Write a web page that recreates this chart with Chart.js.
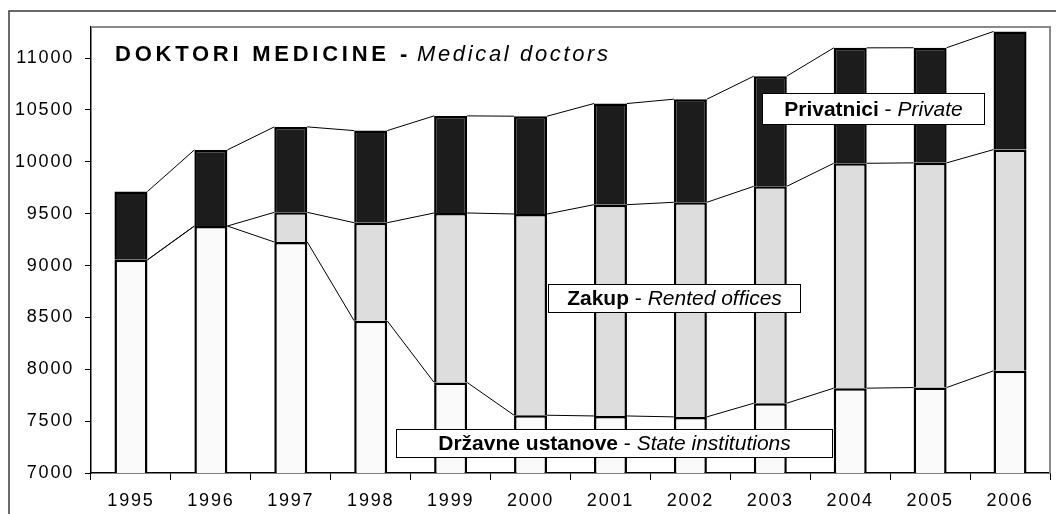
<!DOCTYPE html>
<html>
<head>
<meta charset="utf-8">
<script src="https://cdn.jsdelivr.net/npm/chart.js@4.4.1/dist/chart.umd.min.js"></script>
<style>
  html, body { margin: 0; padding: 0; background: #fff; }
  #wrap { position: relative; width: 1056px; height: 514px; }
</style>
</head>
<body>
<div id="wrap"><canvas id="chart"></canvas></div>
<script>
const years = ["1995", "1996", "1997", "1998", "1999", "2000", "2001", "2002", "2003", "2004", "2005", "2006"];
const stateInst = [9055, 9381, 9227, 8467, 7873, 7557, 7550, 7541, 7673, 7818, 7824, 7985];
const rentedOffices = [0, 0, 286, 946, 1634, 1940, 2037, 2069, 2091, 2168, 2166, 2133];
const privateDocs = [659, 734, 824, 888, 936, 943, 975, 994, 1062, 1113, 1110, 1139];
const yTicks = [7000, 7500, 8000, 8500, 9000, 9500, 10000, 10500, 11000];

const FONT = "'Liberation Sans', Arial, Helvetica, sans-serif";

// Excel-style series lines between the stacked bars
const seriesLines = {
  id: "seriesLines",
  afterDatasetsDraw(chart) {
    const ctx = chart.ctx;
    ctx.save();
    ctx.strokeStyle = "#000";
    ctx.lineWidth = 1;
    chart.data.datasets.forEach((ds, k) => {
      const bars = chart.getDatasetMeta(k).data;
      for (let i = 0; i < bars.length - 1; i++) {
        const a = bars[i], b = bars[i + 1];
        ctx.beginPath();
        ctx.moveTo(a.x + a.width / 2, a.y);
        ctx.lineTo(b.x - b.width / 2, b.y);
        ctx.stroke();
      }
    });
    ctx.restore();
  }
};

// spaced-out text stretched to a given width
function fitText(ctx, text, font, x, y, width) {
  ctx.font = font;
  ctx.letterSpacing = "0px";
  const w0 = ctx.measureText(text).width;
  ctx.letterSpacing = ((width - w0) / (text.length - 1)) + "px";
  ctx.fillText(text, x, y);
  ctx.letterSpacing = "0px";
}

function drawLabelBox(ctx, box, parts) {
  ctx.save();
  ctx.fillStyle = "#fff";
  ctx.fillRect(box.x, box.y, box.w, box.h);
  ctx.strokeStyle = "#000";
  ctx.lineWidth = 1;
  ctx.strokeRect(box.x + 0.5, box.y + 0.5, box.w - 1, box.h - 1);
  ctx.letterSpacing = "0px";
  let total = 0;
  parts.forEach(p => { ctx.font = p.font; total += ctx.measureText(p.text).width; });
  ctx.fillStyle = "#000";
  ctx.textAlign = "left";
  ctx.textBaseline = "alphabetic";
  let x = box.x + (box.w - total) / 2;
  const y = box.y + box.h / 2 + 6.5;
  parts.forEach(p => {
    ctx.font = p.font;
    ctx.fillText(p.text, x, y);
    x += ctx.measureText(p.text).width;
  });
  ctx.restore();
}

const decorations = {
  id: "decorations",
  beforeDraw(chart) {
    const ctx = chart.ctx;
    ctx.save();
    ctx.strokeStyle = "#3a3a3a";
    ctx.lineWidth = 1.5;
    ctx.beginPath();
    ctx.moveTo(9, 514);
    ctx.lineTo(9, 11);
    ctx.lineTo(1056, 11);
    ctx.stroke();
    ctx.restore();
    // wide tick text like the original
    ctx.letterSpacing = "1.8px";
  },
  afterDraw(chart) {
    const ctx = chart.ctx;
    const a = chart.chartArea;
    ctx.save();
    ctx.letterSpacing = "0px";
    ctx.strokeStyle = "#8a8a8a";
    ctx.lineWidth = 2;
    ctx.beginPath();
    ctx.moveTo(a.left, a.top);
    ctx.lineTo(a.right, a.top);
    ctx.lineTo(a.right, a.bottom);
    ctx.stroke();

    ctx.fillStyle = "#000";
    ctx.textBaseline = "alphabetic";
    fitText(ctx, "DOKTORI MEDICINE", "bold 22px " + FONT, 115, 61, 271);
    ctx.font = "bold 22px " + FONT;
    ctx.fillText("-", 400, 61);
    fitText(ctx, "Medical doctors", "italic 22px " + FONT, 417, 61, 191);
    ctx.restore();

    drawLabelBox(ctx, { x: 762, y: 93, w: 223, h: 32 }, [
      { text: "Privatnici", font: "bold 21px " + FONT },
      { text: " - ", font: "21px " + FONT },
      { text: "Private", font: "italic 21px " + FONT }
    ]);
    drawLabelBox(ctx, { x: 548, y: 284, w: 253, h: 29 }, [
      { text: "Zakup", font: "bold 21px " + FONT },
      { text: " - ", font: "21px " + FONT },
      { text: "Rented offices", font: "italic 21px " + FONT }
    ]);
    drawLabelBox(ctx, { x: 396, y: 429, w: 437, h: 29 }, [
      { text: "Državne ustanove", font: "bold 21px " + FONT },
      { text: " - ", font: "21px " + FONT },
      { text: "State institutions", font: "italic 21px " + FONT }
    ]);
  }
};

const barStyle = {
  borderColor: "#000",
  borderWidth: 2.5,
  barPercentage: 0.413,
  categoryPercentage: 1,
  clip: 0
};

new Chart(document.getElementById("chart"), {
  type: "bar",
  data: {
    labels: years,
    datasets: [
      { label: "Državne ustanove", data: stateInst, backgroundColor: "#fafafa", ...barStyle },
      { label: "Zakup", data: rentedOffices, backgroundColor: "#dddddd", ...barStyle },
      { label: "Privatnici", data: privateDocs, backgroundColor: "#1c1c1c", ...barStyle }
    ]
  },
  options: {
    responsive: true,
    maintainAspectRatio: false,
    animation: false,
    layout: { padding: { left: 0, right: 6, top: 27, bottom: 0 } },
    plugins: {
      legend: { display: false },
      tooltip: { enabled: false }
    },
    scales: {
      x: {
        stacked: true,
        afterFit: s => { s.height = 41; },
        grid: { drawOnChartArea: false, drawTicks: true, tickLength: 7, color: "#000", offset: true },
        border: { display: true, color: "#000", width: 1.5 },
        ticks: { color: "#000", padding: 10, maxRotation: 0, font: { family: FONT, size: 18 } }
      },
      y: {
        stacked: true,
        min: 7000,
        max: 11300,
        afterFit: s => { s.width = 91; },
        afterBuildTicks: s => { s.ticks = yTicks.map(v => ({ value: v })); },
        grid: { drawOnChartArea: false, drawTicks: true, tickLength: 6, color: "#000" },
        border: { display: true, color: "#000", width: 1.5 },
        ticks: {
          autoSkip: false,
          color: "#000",
          padding: 11,
          font: { family: FONT, size: 18 },
          callback: v => String(v)
        }
      }
    }
  },
  plugins: [seriesLines, decorations]
});
</script>
</body>
</html>
